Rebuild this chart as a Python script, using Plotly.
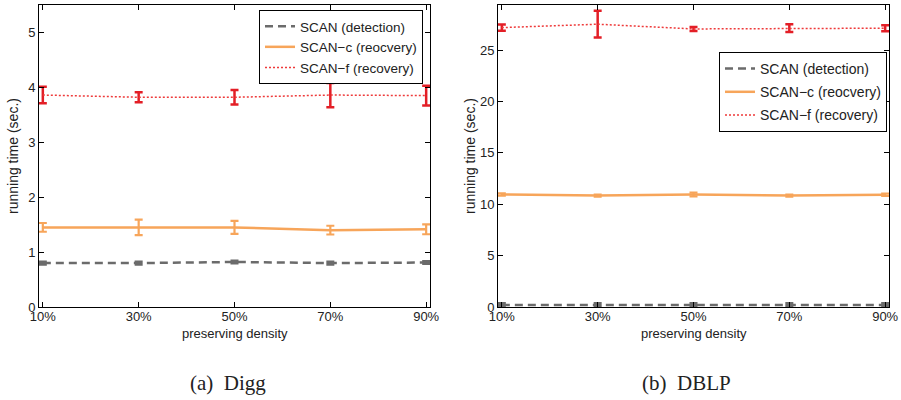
import plotly.graph_objects as go

# ---------------- data ----------------
density = [10, 30, 50, 70, 90]
density_labels = ["10%", "30%", "50%", "70%", "90%"]

# Digg
digg_det = [0.80, 0.80, 0.82, 0.80, 0.81]
digg_det_err = [0.02, 0.02, 0.02, 0.02, 0.02]
digg_c = [1.45, 1.45, 1.45, 1.40, 1.415]
digg_c_err = [0.08, 0.14, 0.12, 0.08, 0.09]
digg_f = [3.86, 3.82, 3.82, 3.86, 3.85]
digg_f_err = [0.15, 0.09, 0.13, 0.22, 0.18]

# DBLP
dblp_det = [0.20, 0.20, 0.20, 0.20, 0.20]
dblp_det_err = [0.15, 0.15, 0.15, 0.15, 0.15]
dblp_c = [10.95, 10.85, 10.95, 10.85, 10.93]
dblp_c_err = [0.12, 0.10, 0.18, 0.10, 0.12]
dblp_f = [27.2, 27.53, 27.07, 27.14, 27.14]
dblp_f_err = [0.30, 1.30, 0.20, 0.38, 0.30]

names = ["SCAN (detection)", "SCAN\u2212c (reocvery)", "SCAN\u2212f (recovery)"]

GREY = "#6b6b6b"
ORANGE = "#f7a55a"
RED_LINE = "#ee3a3a"
RED_ERR = "#e31e26"

fig = go.Figure()


def add_series(xa, ya, legend, group, det, det_e, c, c_e, f, f_e):
    fig.add_trace(go.Scatter(
        x=density, y=det, mode="lines", name=names[0],
        line=dict(color=GREY, width=2.5, dash="8px,5px"),
        error_y=dict(type="data", array=det_e, color=GREY, thickness=3, width=4),
        xaxis=xa, yaxis=ya, legend=legend, legendgroup=group + "1"))
    fig.add_trace(go.Scatter(
        x=density, y=c, mode="lines", name=names[1],
        line=dict(color=ORANGE, width=2.5),
        error_y=dict(type="data", array=c_e, color=ORANGE, thickness=2.2, width=4),
        xaxis=xa, yaxis=ya, legend=legend, legendgroup=group + "2"))
    fig.add_trace(go.Scatter(
        x=density, y=f, mode="lines", name=names[2],
        line=dict(color=RED_LINE, width=1.5, dash="2px,2px"),
        error_y=dict(type="data", array=f_e, color=RED_ERR, thickness=2.5, width=4),
        xaxis=xa, yaxis=ya, legend=legend, legendgroup=group + "3"))


add_series("x", "y", "legend", "a", digg_det, digg_det_err, digg_c, digg_c_err, digg_f, digg_f_err)
add_series("x2", "y2", "legend2", "b", dblp_det, dblp_det_err, dblp_c, dblp_c_err, dblp_f, dblp_f_err)

W, H = 901, 400
L, R, T, B = 39, 12, 5, 93          # plot area: x 39..889, y 5..307
PW, PH = W - L - R, H - T - B


def px(x):
    return (x - L) / PW


def py(y):
    return (H - B - y) / PH


ax_font = dict(family="Liberation Sans, Arial", size=13, color="#222")

common_x = dict(range=[9.2, 90.8], tickvals=density, ticktext=density_labels,
                ticks="inside", ticklen=5, showline=True, linecolor="black",
                linewidth=1, mirror="ticks", showgrid=False, zeroline=False,
                tickfont=ax_font, tickcolor="black", automargin=False,
                ticklabelstandoff=-3)
common_y = dict(ticks="inside", ticklen=5, showline=True, linecolor="black",
                linewidth=1, mirror="ticks", showgrid=False, zeroline=False,
                tickfont=ax_font, tickcolor="black", automargin=False)

fig.update_layout(
    width=W, height=H,
    margin=dict(l=L, r=R, t=T, b=B, autoexpand=False),
    paper_bgcolor="white", plot_bgcolor="white",
    xaxis=dict(domain=[0, px(430)], anchor="y", **common_x),
    yaxis=dict(domain=[0, 1], anchor="x", range=[0, 5.5],
               tickvals=[0, 1, 2, 3, 4, 5], **common_y),
    xaxis2=dict(domain=[px(498), 1], anchor="y2", **common_x),
    yaxis2=dict(domain=[0, 1], anchor="x2", range=[0, 29.4],
                tickvals=[0, 5, 10, 15, 20, 25], **common_y),
    legend=dict(x=px(259), y=py(10), xanchor="left", yanchor="top",
                bgcolor="white", bordercolor="black", borderwidth=1,
                font=dict(family="Liberation Sans, Arial", size=13.5, color="#222"),
                itemwidth=30, tracegroupgap=0),
    legend2=dict(x=px(719), y=py(52), xanchor="left", yanchor="top",
                 bgcolor="white", bordercolor="black", borderwidth=1,
                 font=dict(family="Liberation Sans, Arial", size=14, color="#222"),
                 itemwidth=30, tracegroupgap=2),
    showlegend=True,
)

ann = []
for cx, cap, ylx in [(234.5, "(a)  Digg", 13), (693.5, "(b)  DBLP", 470)]:
    ann.append(dict(x=px(cx), y=py(333), xref="paper", yref="paper",
                    text="preserving density", showarrow=False,
                    font=dict(family="Liberation Sans, Arial", size=13, color="#222"),
                    xanchor="center", yanchor="middle"))
    ann.append(dict(x=px(cx - 7), y=py(383), xref="paper", yref="paper",
                    text=cap, showarrow=False,
                    font=dict(family="Liberation Serif, Times New Roman", size=21, color="#222"),
                    xanchor="center", yanchor="middle"))
    ann.append(dict(x=px(ylx), y=py(156), xref="paper", yref="paper",
                    text="running time (sec.)", showarrow=False, textangle=-90,
                    font=dict(family="Liberation Sans, Arial", size=14, color="#222"),
                    xanchor="center", yanchor="middle"))
fig.update_layout(annotations=ann)

fig.write_html("out.html", config={"displayModeBar": False},
               post_script="document.body.style.margin='0';document.body.style.overflow='hidden';")
